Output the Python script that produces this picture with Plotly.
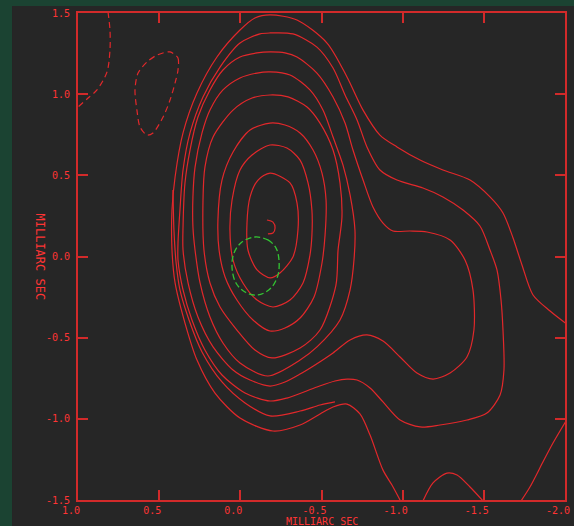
import plotly.graph_objects as go

# ---- axis ticks ----
x_ticks = [1.0, 0.5, 0.0, -0.5, -1.0, -1.5, -2.0]
x_tick_labels = ["1.0", "0.5", "0.0", "-0.5", "-1.0", "-1.5", "-2.0"]
y_ticks = [1.5, 1.0, 0.5, 0.0, -0.5, -1.0, -1.5]
y_tick_labels = ["1.5", "1.0", "0.5", "0.0", "-0.5", "-1.0", "-1.5"]
axis_title = "MILLIARC SEC"

# ---- positive contours (milliarcsec) ----
core_i_x = [-0.164, -0.201, -0.214, -0.201, -0.170]
core_i_y = [0.225, 0.212, 0.176, 0.145, 0.139]

lev_h_x = [-0.183, -0.306, -0.349, -0.355, -0.324, -0.244, -0.183, -0.103, -0.047, -0.041, -0.060, -0.109, -0.183]
lev_h_y = [0.514, 0.453, 0.330, 0.163, -0.003, -0.102, -0.132, -0.083, 0.040, 0.206, 0.367, 0.471, 0.514]

lev_g_x = [-0.183, -0.287, -0.368, -0.417, -0.441, -0.441, -0.429, -0.386, -0.306, -0.201, -0.103, -0.016, 0.045, 0.064, 0.051, 0.002, -0.072, -0.183]
lev_g_y = [0.687, 0.668, 0.594, 0.453, 0.286, 0.132, 0.009, -0.163, -0.268, -0.311, -0.268, -0.163, -0.022, 0.163, 0.348, 0.533, 0.625, 0.687]

lev_f_x = [-0.183, -0.275, -0.368, -0.448, -0.503, -0.528, -0.522, -0.503, -0.454, -0.368, -0.275, -0.183, -0.078, 0.021, 0.094, 0.131, 0.138, 0.113, 0.045, -0.060, -0.183]
lev_f_y = [0.822, 0.810, 0.761, 0.656, 0.514, 0.348, 0.132, -0.040, -0.249, -0.379, -0.440, -0.459, -0.391, -0.268, -0.126, 0.040, 0.225, 0.471, 0.644, 0.779, 0.822]

lev_e_x = [-0.183, -0.294, -0.411, -0.491, -0.571, -0.614, -0.626, -0.602, -0.589, -0.491, -0.368, -0.195, -0.090, 0.021, 0.125, 0.187, 0.224, 0.230, 0.218, 0.168, 0.045, -0.072, -0.183]
lev_e_y = [0.995, 0.983, 0.921, 0.822, 0.656, 0.453, 0.243, 0.040, -0.176, -0.453, -0.564, -0.625, -0.576, -0.453, -0.311, -0.163, 0.040, 0.348, 0.551, 0.736, 0.902, 0.976, 0.995]

lev_d_x = [-0.183, -0.306, -0.429, -0.509, -0.571, -0.632, -0.676, -0.706, -0.700, -0.676, -0.614, -0.472, -0.368, -0.170, 0.002, 0.107, 0.187, 0.248, 0.279, 0.292, 0.292, 0.279, 0.236, 0.187, 0.107, 0.002, -0.103, -0.183]
lev_d_y = [1.137, 1.118, 1.026, 0.902, 0.736, 0.564, 0.379, 0.163, -0.022, -0.206, -0.391, -0.557, -0.638, -0.736, -0.656, -0.533, -0.373, -0.163, 0.040, 0.182, 0.367, 0.551, 0.761, 0.902, 1.026, 1.100, 1.130, 1.137]

lev_c_x = [-0.183, -0.275, -0.349, -0.472, -0.571, -0.645, -0.694, -0.756, -0.817, -0.879, -0.940, -1.045, -1.150, -1.292, -1.384, -1.433, -1.439, -1.396, -1.292, -1.187, -1.088, -0.984, -0.879, -0.780, -0.676, -0.571, -0.460, -0.368, -0.275, -0.183, -0.060, 0.045, 0.168, 0.261, 0.322, 0.353, 0.353, 0.341, 0.310, 0.261, 0.187, 0.107, 0.002, -0.103, -0.183]
lev_c_y = [1.260, 1.254, 1.229, 1.130, 0.983, 0.822, 0.656, 0.471, 0.305, 0.206, 0.157, 0.157, 0.151, 0.102, -0.022, -0.206, -0.453, -0.619, -0.718, -0.755, -0.718, -0.619, -0.521, -0.483, -0.514, -0.594, -0.668, -0.724, -0.773, -0.798, -0.761, -0.699, -0.557, -0.373, -0.163, 0.040, 0.182, 0.453, 0.656, 0.859, 1.026, 1.149, 1.229, 1.254, 1.260]

lev_b_x = [-0.183, -0.324, -0.472, -0.571, -0.645, -0.719, -0.780, -0.860, -0.965, -1.125, -1.248, -1.372, -1.476, -1.538, -1.581, -1.606, -1.618, -1.624, -1.600, -1.519, -1.396, -1.230, -1.107, -0.984, -0.879, -0.799, -0.719, -0.657, -0.583, -0.472, -0.287, -0.183, -0.029, 0.113, 0.218, 0.298, 0.353, 0.384, 0.384, 0.372, 0.353, 0.310, 0.230, 0.125, 0.002, -0.121, -0.183]
lev_b_y = [1.377, 1.371, 1.290, 1.161, 0.995, 0.841, 0.675, 0.533, 0.471, 0.422, 0.367, 0.286, 0.188, 0.040, -0.083, -0.268, -0.453, -0.699, -0.853, -0.964, -1.007, -1.038, -1.050, -1.007, -0.896, -0.810, -0.761, -0.755, -0.767, -0.804, -0.872, -0.890, -0.841, -0.730, -0.576, -0.391, -0.206, -0.022, 0.083, 0.286, 0.533, 0.761, 0.983, 1.167, 1.315, 1.371, 1.377]

lev_a_x = [-2.010, -1.908, -1.803, -1.735, -1.680, -1.618, -1.538, -1.415, -1.248, -1.107, -0.965, -0.860, -0.756, -0.657, -0.534, -0.349, -0.183, -0.090, 0.002, 0.144, 0.267, 0.353, 0.402, 0.421, 0.421, 0.402, 0.341, 0.267, 0.156, 0.002, -0.201, -0.368, -0.491, -0.571, -0.657, -0.737, -0.799, -0.879, -0.934, -0.990]
lev_a_y = [-0.416, -0.336, -0.237, -0.052, 0.114, 0.268, 0.367, 0.471, 0.533, 0.594, 0.675, 0.748, 0.902, 1.106, 1.315, 1.457, 1.488, 1.469, 1.395, 1.229, 1.007, 0.761, 0.490, 0.286, 0.040, -0.163, -0.410, -0.638, -0.841, -0.995, -1.075, -1.038, -0.970, -0.927, -0.909, -0.970, -1.100, -1.316, -1.408, -1.512]

lev_x_x = [0.415, 0.409, 0.396, 0.372, 0.316, 0.236, 0.113, -0.029, -0.183, -0.368, -0.491, -0.583]
lev_x_y = [0.410, 0.163, -0.034, -0.206, -0.391, -0.588, -0.773, -0.902, -0.982, -0.952, -0.915, -0.896]

bump_x = [-1.125, -1.187, -1.273, -1.335, -1.415, -1.495]
bump_y = [-1.506, -1.395, -1.334, -1.346, -1.420, -1.506]

edge_x = [-1.729, -1.784, -1.864, -1.926, -2.006]
edge_y = [-1.506, -1.420, -1.266, -1.149, -1.013]

# ---- negative contours ----
neg1_x = [0.815, 0.803, 0.803, 0.821, 0.883, 0.938, 1.006]
neg1_y = [1.506, 1.395, 1.272, 1.137, 1.026, 0.976, 0.915]
neg2_x = [0.433, 0.384, 0.384, 0.402, 0.433, 0.476, 0.538, 0.575, 0.618, 0.637, 0.649, 0.630, 0.575, 0.513, 0.433]
neg2_y = [1.260, 1.223, 1.149, 1.069, 0.964, 0.859, 0.761, 0.748, 0.798, 0.902, 1.026, 1.130, 1.198, 1.241, 1.260]

# ---- model component (green) ----
comp_x = [-0.090, -0.170, -0.220, -0.238, -0.232, -0.189, -0.109, -0.029, 0.027, 0.051, 0.039, -0.010, -0.090]
comp_y = [0.120, 0.102, 0.052, -0.022, -0.114, -0.194, -0.237, -0.219, -0.163, -0.071, 0.022, 0.089, 0.120]

RED = "#e2282b"
LABEL_RED = "#ff3434"
FRAME_RED = "#d22a2a"
GREEN_BG = "#1b4332"
PANEL = "#262626"
MONO = "DejaVu Sans Mono, monospace"

positive = [
    (core_i_x, core_i_y), (lev_h_x, lev_h_y), (lev_g_x, lev_g_y), (lev_f_x, lev_f_y),
    (lev_e_x, lev_e_y), (lev_d_x, lev_d_y), (lev_c_x, lev_c_y), (lev_b_x, lev_b_y),
    (lev_a_x, lev_a_y), (lev_x_x, lev_x_y), (bump_x, bump_y), (edge_x, edge_y),
]
negative = [(neg1_x, neg1_y), (neg2_x, neg2_y)]

fig = go.Figure()
for xs, ys in positive:
    fig.add_trace(go.Scatter(x=xs, y=ys, mode="lines",
                             line=dict(color=RED, width=1.2, shape="spline", smoothing=0.8),
                             hoverinfo="skip", showlegend=False))
for xs, ys in negative:
    fig.add_trace(go.Scatter(x=xs, y=ys, mode="lines",
                             line=dict(color=RED, width=1.2, dash="6px,4px", shape="spline", smoothing=0.8),
                             hoverinfo="skip", showlegend=False))
fig.add_trace(go.Scatter(x=comp_x, y=comp_y, mode="lines",
                         line=dict(color="#33c433", width=1.3, dash="6px,3px", shape="spline", smoothing=1.0),
                         hoverinfo="skip", showlegend=False))

axis_common = dict(
    showgrid=False, zeroline=False, showline=True, linecolor=FRAME_RED, linewidth=2,
    mirror="allticks", ticks="inside", ticklen=10, tickwidth=2, tickcolor=FRAME_RED,
    tickfont=dict(family=MONO, size=10, color=LABEL_RED), ticklabeloverflow="allow",
    automargin=False,
)
fig.update_xaxes(range=[1.0, -2.0], tickmode="array", tickvals=x_ticks, ticktext=x_tick_labels,
                 ticklabelstandoff=0, ticklabelshift=7, **axis_common)
fig.update_yaxes(range=[-1.5, 1.5], tickmode="array", tickvals=y_ticks, ticktext=y_tick_labels,
                 ticklabelstandoff=4, **axis_common)

fig.update_layout(
    width=574, height=526,
    margin=dict(l=78, r=9, t=13, b=26, autoexpand=False),
    paper_bgcolor=GREEN_BG, plot_bgcolor=PANEL,
    shapes=[dict(type="rect", xref="paper", yref="paper", x0=-0.1355, x1=1.05,
                 y0=-0.2, y1=1.0144, fillcolor=PANEL, line=dict(width=0), layer="below")],
    annotations=[
        dict(text=axis_title, xref="paper", yref="paper", x=0.5, y=-0.044,
             xanchor="center", yanchor="middle", showarrow=False,
             font=dict(family=MONO, size=10, color=LABEL_RED)),
        dict(text=axis_title, xref="paper", yref="paper", x=-0.078, y=0.5,
             xanchor="center", yanchor="middle", showarrow=False, textangle=90,
             font=dict(family=MONO, size=12, color=LABEL_RED)),
    ],
)

fig.write_html("out.html")
